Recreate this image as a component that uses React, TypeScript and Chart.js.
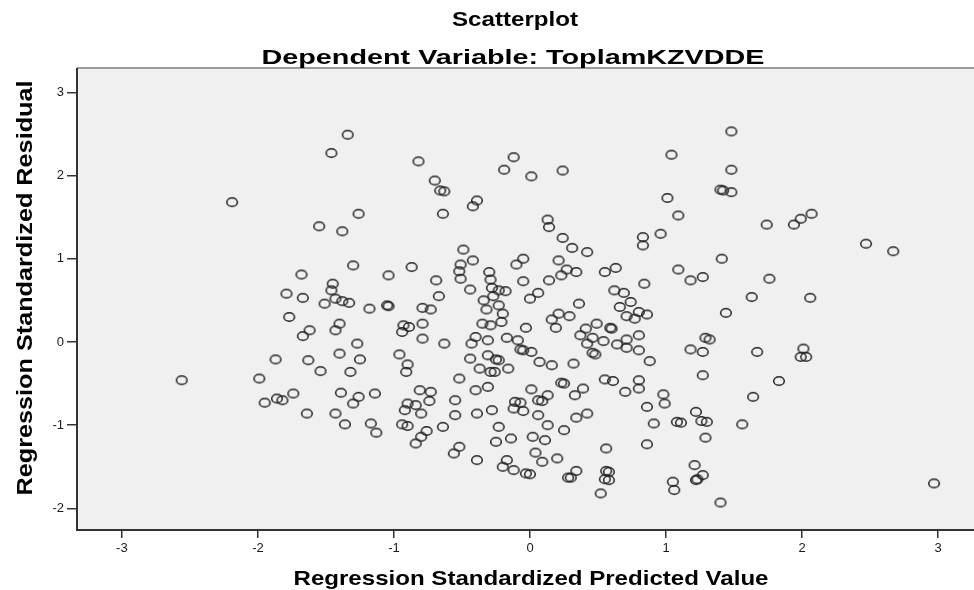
import React, { useEffect, useRef } from 'react';
import { Chart, registerables } from 'chart.js';

Chart.register(...registerables);

const TITLE = 'Scatterplot';
const SUBTITLE = 'Dependent Variable: ToplamKZVDDE';
const X_TITLE = 'Regression Standardized Predicted Value';
const Y_TITLE = 'Regression Standardized Residual';

const xTickValues = [-3, -2, -1, 0, 1, 2, 3];
const yTickValues = [-2, -1, 0, 1, 2, 3];
const X_MIN = -3.33;
const X_MAX = 3.33;
const Y_MIN = -2.26;
const Y_MAX = 3.28;

// [regression standardized predicted value, regression standardized residual]
const upperPoints: [number, number][] = [
  [-1.34, 2.49], [-1.46, 2.27], [-2.19, 1.68], [-1.26, 1.54], [-1.55, 1.39], [-1.38, 1.33],
  [-0.82, 2.17], [-0.12, 2.22], [-0.19, 2.07], [0.01, 1.99], [0.24, 2.06], [-0.70, 1.94],
  [-0.66, 1.82], [-0.63, 1.81], [-0.64, 1.54], [-0.39, 1.70], [-0.42, 1.63], [0.13, 1.47],
  [0.14, 1.38], [1.04, 2.25], [1.01, 1.73],
  [1.48, 2.53], [1.48, 2.07], [1.40, 1.83], [1.42, 1.82], [1.48, 1.80], [1.09, 1.52],
  [1.74, 1.41], [1.94, 1.41], [1.99, 1.48], [2.07, 1.54],
];

const leftPoints: [number, number][] = [
  [-1.30, 0.92], [-1.68, 0.81], [-1.45, 0.70], [-1.46, 0.62], [-1.79, 0.58], [-1.67, 0.53],
  [-1.43, 0.52], [-1.38, 0.49], [-1.33, 0.47], [-1.51, 0.46], [-1.18, 0.40], [-1.77, 0.30],
  [-1.40, 0.22], [-1.62, 0.14], [-1.43, 0.14], [-1.67, 0.07], [-1.27, -0.02], [-1.40, -0.14],
  [-1.87, -0.21], [-1.63, -0.22], [-1.25, -0.21], [-1.54, -0.35], [-1.32, -0.36], [-2.56, -0.46],
  [-1.99, -0.44], [-1.74, -0.62], [-1.39, -0.61], [-1.14, -0.62],
  [-1.95, -0.73], [-1.86, -0.68], [-1.82, -0.70], [-1.64, -0.86], [-1.26, -0.66], [-1.30, -0.74],
  [-1.43, -0.86], [-1.36, -0.99], [-1.17, -0.98], [-1.13, -1.09],
];

const centerPoints: [number, number][] = [
  [0.24, 1.25], [0.31, 1.13], [0.42, 1.08], [0.83, 1.26], [0.83, 1.16], [0.96, 1.30],
  [-0.49, 1.11], [-0.42, 0.98], [-0.05, 1.00], [-0.10, 0.93], [0.21, 0.98], [-0.51, 0.93],
  [-0.87, 0.90], [-1.04, 0.80], [-0.52, 0.85], [-0.51, 0.76], [-0.30, 0.84], [-0.29, 0.75],
  [-0.69, 0.74], [-0.44, 0.63], [-0.05, 0.73], [0.14, 0.74], [0.23, 0.80], [0.27, 0.87],
  [0.34, 0.84], [0.55, 0.84], [0.63, 0.89], [0.84, 0.70], [-0.28, 0.65], [-0.23, 0.62],
  [-0.18, 0.61], [-0.27, 0.55], [-0.34, 0.50], [-0.67, 0.55], [0.06, 0.59], [0.00, 0.52],
  [-0.23, 0.44], [-0.32, 0.39], [0.62, 0.62], [0.69, 0.59], [0.74, 0.48], [0.66, 0.42],
  [0.36, 0.46], [0.21, 0.34], [0.29, 0.31], [0.16, 0.27], [0.19, 0.17], [0.71, 0.31],
  [0.77, 0.28], [0.80, 0.36], [0.86, 0.33], [-1.05, 0.44], [-1.04, 0.43], [-0.79, 0.41],
  [-0.73, 0.39], [-0.20, 0.34], [-0.21, 0.24], [-0.35, 0.22], [-0.29, 0.20], [-0.03, 0.17],
  [-0.93, 0.20], [-0.89, 0.18], [-0.79, 0.22], [-0.94, 0.12], [-0.79, 0.04], [-0.63, -0.02],
  [-0.40, 0.06], [-0.43, -0.02], [-0.31, 0.02], [-0.17, 0.05], [-0.09, 0.02], [-0.07, -0.09],
  [-0.05, -0.10], [0.01, -0.12], [0.37, 0.08], [0.41, 0.16], [0.49, 0.22], [0.59, 0.17],
  [0.60, 0.16], [0.46, 0.05], [0.54, 0.01], [0.42, -0.02], [0.64, -0.03], [0.71, 0.03],
  [0.80, 0.08], [0.71, -0.07], [0.80, -0.10], [0.88, -0.23], [0.46, -0.13], [0.48, -0.15],
  [-0.96, -0.15], [-0.90, -0.27], [-0.91, -0.36], [-0.44, -0.20], [-0.31, -0.16], [-0.25, -0.21],
  [-0.23, -0.22], [-0.16, -0.32], [-0.37, -0.32], [-0.29, -0.36], [-0.26, -0.36], [0.07, -0.24],
  [0.16, -0.28], [0.32, -0.26], [-0.52, -0.44], [0.23, -0.49], [0.25, -0.50], [0.55, -0.45],
  [0.61, -0.47], [0.80, -0.46], [0.80, -0.56], [0.39, -0.56], [0.01, -0.57], [-0.31, -0.54],
  [-0.40, -0.58], [-0.81, -0.58], [-0.73, -0.60], [0.70, -0.60], [0.98, -0.63],
];

const lowerPoints: [number, number][] = [
  [-0.90, -0.74], [-0.84, -0.76], [-0.92, -0.82], [-0.74, -0.71], [-0.80, -0.86], [-0.94, -0.99],
  [-0.90, -1.01], [-0.76, -1.07], [-0.80, -1.14], [-0.84, -1.22], [-0.64, -1.02], [-0.55, -0.70],
  [-0.55, -0.88], [-0.39, -0.86], [-0.28, -0.82], [-0.23, -1.02], [-0.25, -1.20], [-0.14, -1.16],
  [-0.52, -1.26], [-0.56, -1.34], [-0.39, -1.42], [-0.17, -1.42], [-0.20, -1.50], [-0.12, -1.54],
  [-0.03, -1.58], [0.00, -1.59], [-0.11, -0.72], [-0.07, -0.73], [-0.12, -0.80], [-0.05, -0.83],
  [0.06, -0.70], [0.09, -0.71], [0.13, -0.64], [0.06, -0.88], [0.13, -1.00], [0.02, -1.14],
  [0.11, -1.18], [0.04, -1.33], [0.09, -1.44], [0.20, -1.40], [0.25, -1.06], [0.33, -0.64],
  [0.34, -0.91], [0.42, -0.86], [0.34, -1.55], [0.28, -1.63], [0.30, -1.63], [0.56, -1.28],
  [0.56, -1.55], [0.58, -1.56], [0.55, -1.65], [0.58, -1.66], [0.52, -1.82], [0.86, -0.78],
  [0.91, -0.98], [0.86, -1.23], [0.99, -0.74],
];

const rightPoints: [number, number][] = [
  [1.64, -0.66], [1.22, -0.84], [1.08, -0.96], [1.11, -0.97], [1.26, -0.95], [1.30, -0.96],
  [1.56, -0.99], [1.29, -1.15], [1.21, -1.48], [1.27, -1.60], [1.22, -1.66], [1.23, -1.65],
  [1.05, -1.68], [1.06, -1.78], [1.40, -1.93], [2.97, -1.70],
  [2.47, 1.18], [2.67, 1.09], [1.41, 1.00], [1.09, 0.87], [1.18, 0.74], [1.27, 0.78],
  [1.76, 0.76], [1.63, 0.54], [2.06, 0.53], [1.44, 0.35], [1.29, 0.05], [1.32, 0.03],
  [1.18, -0.09], [1.27, -0.12], [1.67, -0.12], [2.01, -0.08], [1.99, -0.18], [2.03, -0.18],
  [1.27, -0.40], [1.83, -0.47],
];

const FONT_FAMILY = '"Liberation Sans", Arial, Helvetica, sans-serif';

function makeMarker(): HTMLCanvasElement {
  const c = document.createElement('canvas');
  c.width = 14;
  c.height = 12;
  const g = c.getContext('2d');
  if (g) {
    g.strokeStyle = '#222222';
    g.lineWidth = 1.5;
    g.beginPath();
    g.ellipse(7, 6, 5.3, 4.3, 0, 0, Math.PI * 2);
    g.stroke();
  }
  return c;
}

function drawFitted(
  ctx: CanvasRenderingContext2D,
  text: string,
  cx: number,
  baseline: number,
  size: number,
  targetWidth: number,
  vertical: boolean
) {
  ctx.save();
  ctx.font = `bold ${size}px ${FONT_FAMILY}`;
  const w = ctx.measureText(text).width;
  const sx = targetWidth / w;
  if (vertical) {
    ctx.translate(baseline, cx);
    ctx.rotate(-Math.PI / 2);
  } else {
    ctx.translate(cx, baseline);
  }
  ctx.scale(sx, 1);
  ctx.textAlign = 'center';
  ctx.textBaseline = 'alphabetic';
  ctx.fillStyle = '#000000';
  ctx.fillText(text, 0, 0);
  ctx.restore();
}

const backgroundPlugin = {
  id: 'plotBackground',
  beforeDraw(chart: any) {
    const { ctx, chartArea } = chart;
    ctx.save();
    ctx.fillStyle = '#f0f0f0';
    ctx.fillRect(chartArea.left, chartArea.top, chartArea.right - chartArea.left, chartArea.bottom - chartArea.top);
    ctx.strokeStyle = '#9a9a9a';
    ctx.lineWidth = 2;
    ctx.beginPath();
    ctx.moveTo(chartArea.left, chartArea.top - 1);
    ctx.lineTo(chartArea.right, chartArea.top - 1);
    ctx.stroke();
    ctx.restore();
  },
};

const textPlugin = {
  id: 'spssTexts',
  afterDraw(chart: any) {
    const ctx = chart.ctx as CanvasRenderingContext2D;
    drawFitted(ctx, TITLE, 515, 26, 20, 126, false);
    drawFitted(ctx, SUBTITLE, 513, 64, 21, 503, false);
    drawFitted(ctx, X_TITLE, 531, 585, 21, 475, false);
    drawFitted(ctx, Y_TITLE, 288, 32, 22, 415, true);
  },
};

export default function App() {
  const canvasRef = useRef<HTMLCanvasElement | null>(null);

  useEffect(() => {
    document.documentElement.style.overflow = 'hidden';
    document.body.style.overflow = 'hidden';
    const canvas = canvasRef.current;
    if (!canvas) return;
    const marker = makeMarker();
    const allPoints = [...upperPoints, ...leftPoints, ...centerPoints, ...lowerPoints, ...rightPoints];

    const chart = new Chart(canvas, {
      type: 'scatter',
      data: {
        datasets: [
          {
            data: allPoints.map(([x, y]) => ({ x, y })),
            pointStyle: marker as any,
            pointRadius: 5,
            pointHoverRadius: 5,
            borderColor: '#222222',
            backgroundColor: 'rgba(0,0,0,0)',
          },
        ],
      },
      options: {
        animation: false,
        responsive: false,
        maintainAspectRatio: false,
        devicePixelRatio: 1,
        events: [],
        layout: { padding: { left: 0, right: 17, top: 69, bottom: 0 } },
        plugins: {
          legend: { display: false },
          tooltip: { enabled: false },
          title: { display: false },
        },
        scales: {
          x: {
            type: 'linear',
            min: X_MIN,
            max: X_MAX,
            afterBuildTicks: (scale: any) => {
              scale.ticks = xTickValues.map((v) => ({ value: v }));
            },
            afterFit: (scale: any) => {
              scale.height = 60;
            },
            grid: {
              display: true,
              drawOnChartArea: false,
              drawTicks: true,
              tickLength: 8,
              color: '#333333',
              lineWidth: 1.5,
            },
            border: { display: true, color: '#333333', width: 2 },
            ticks: {
              autoSkip: false,
              maxRotation: 0,
              padding: 3,
              color: '#1a1a1a',
              font: { size: 13, family: FONT_FAMILY },
              callback: (v: any) => String(v),
            },
            title: { display: false },
          },
          y: {
            type: 'linear',
            min: Y_MIN,
            max: Y_MAX,
            afterBuildTicks: (scale: any) => {
              scale.ticks = yTickValues.map((v) => ({ value: v }));
            },
            afterFit: (scale: any) => {
              scale.width = 77;
            },
            grid: {
              display: true,
              drawOnChartArea: false,
              drawTicks: true,
              tickLength: 10,
              color: '#333333',
              lineWidth: 1.5,
            },
            border: { display: true, color: '#333333', width: 2 },
            ticks: {
              autoSkip: false,
              padding: 3,
              color: '#1a1a1a',
              font: { size: 13, family: FONT_FAMILY },
              callback: (v: any) => String(v),
            },
            title: { display: false },
          },
        },
      },
      plugins: [backgroundPlugin, textPlugin],
    });

    return () => {
      chart.destroy();
    };
  }, []);

  return (
    <div style={{ position: 'fixed', left: 0, top: 0, width: 1000, height: 590, background: '#ffffff' }}>
      <canvas ref={canvasRef} width={1000} height={590} style={{ display: 'block' }} />
    </div>
  );
}
